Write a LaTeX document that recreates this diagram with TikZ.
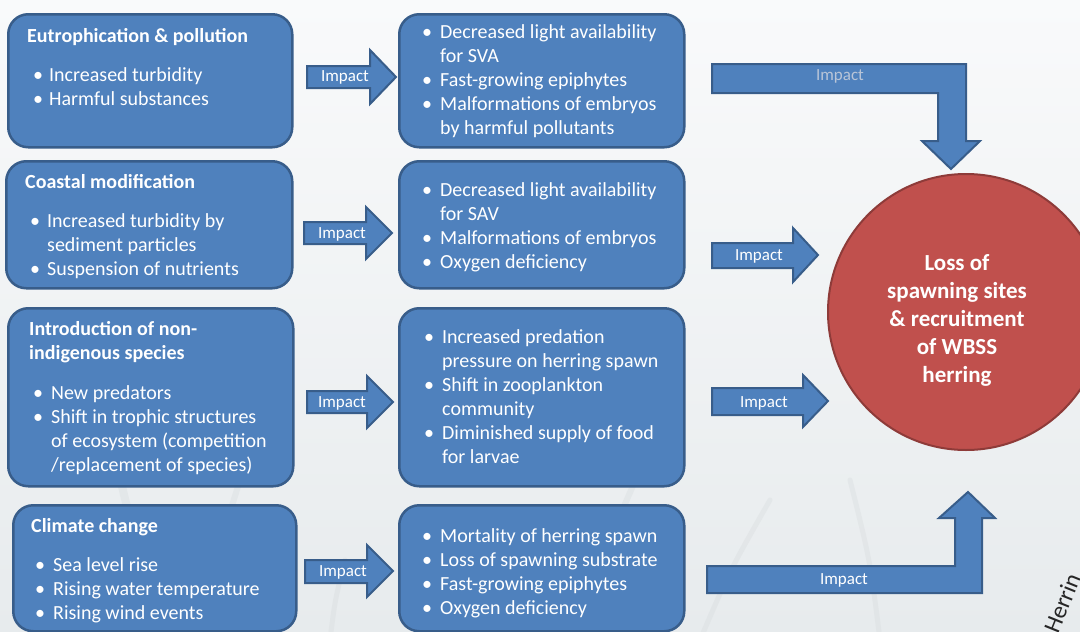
\documentclass[tikz,border=0pt]{standalone}
\usepackage{fontspec}
\setmainfont{Carlito}
\usetikzlibrary{calc, positioning}

\definecolor{boxblue}{HTML}{4F81BD}
\definecolor{boxline}{HTML}{385D8A}
\definecolor{lossred}{HTML}{C0504D}
\definecolor{lossline}{HTML}{8E3B39}
\definecolor{bgtop}{HTML}{F9FAFB}
\definecolor{bgbottom}{HTML}{E7EBED}
\definecolor{stem}{HTML}{D6DADC}
\definecolor{fadedtext}{HTML}{B9C5D8}

\newcommand{\blt}{\hspace{-2pt}\textbullet}

\tikzset{
  pressurebox/.style={draw=boxline, fill=boxblue, line width=2.5pt, rounded corners=20pt,
                      inner sep=0pt, anchor=north west},
  boxtext/.style={anchor=base west, inner sep=0pt, text=white, font=\fontsize{20}{24}\selectfont},
  impactarrow/.style={draw=boxline, fill=boxblue, line width=2pt, line join=miter},
  impactlabel/.style={text=white, inner sep=0pt, font=\fontsize{17}{20}\selectfont},
}

\begin{document}
\begin{tikzpicture}[x=1pt, y=-1pt]
  \useasboundingbox (0,0) rectangle (1080,632);
  \clip (0,0) rectangle (1080,632);

  % backdrop with a few faint grass stems
  \fill[top color=bgtop, bottom color=bgbottom] (0,0) rectangle (1080,632);
  \begin{scope}[stem, line cap=round, opacity=0.35]
    \draw[line width=8pt] (150,640) .. controls (140,560) .. (118,470);
    \draw[line width=6pt] (205,640) .. controls (215,560) .. (240,480);
    \draw[line width=6pt] (590,640) .. controls (600,560) .. (640,470);
    \draw[line width=5pt] (700,640) .. controls (730,570) .. (770,500);
    \draw[line width=5pt] (330,640) .. controls (335,600) .. (345,560);
    \draw[line width=5pt] (880,640) .. controls (870,560) .. (850,480);
  \end{scope}

  % pressures
  \node[pressurebox, minimum width=284pt, minimum height=133pt] (eutro) at (7,13) {};
  \node[pressurebox, minimum width=286pt, minimum height=127pt] (coast) at (5,160) {};
  \node[pressurebox, minimum width=285pt, minimum height=178pt] (invasive) at (7,307) {};
  \node[pressurebox, minimum width=283pt, minimum height=126pt] (climate) at (12,504) {};

  \node[boxtext] (eutrotext) at (27,42) {\begin{tabular}[t]{@{\hspace{8pt}}p{14pt}@{}l@{}}
    \multicolumn{2}{@{}l@{}}{\bfseries Eutrophication \& pollution}\\[15pt]
    \blt & Increased turbidity\\
    \blt & Harmful substances
  \end{tabular}};
  \node[boxtext] (coasttext) at (25,188) {\begin{tabular}[t]{@{\hspace{7pt}}p{15pt}@{}l@{}}
    \multicolumn{2}{@{}l@{}}{\bfseries Coastal modification}\\[15pt]
    \blt & Increased turbidity by\\
         & sediment particles\\
    \blt & Suspension of nutrients
  \end{tabular}};
  \node[boxtext] (invasivetext) at (29,335) {\begin{tabular}[t]{@{\hspace{6pt}}p{16pt}@{}l@{}}
    \multicolumn{2}{@{}l@{}}{\bfseries Introduction of non-}\\
    \multicolumn{2}{@{}l@{}}{\bfseries indigenous species}\\[16pt]
    \blt & New predators\\
    \blt & Shift in trophic structures\\
         & of ecosystem (competition\\
         & /replacement of species)
  \end{tabular}};
  \node[boxtext] (climatetext) at (31,532) {\begin{tabular}[t]{@{\hspace{6pt}}p{16pt}@{}l@{}}
    \multicolumn{2}{@{}l@{}}{\bfseries Climate change}\\[15pt]
    \blt & Sea level rise\\
    \blt & Rising water temperature\\
    \blt & Rising wind events
  \end{tabular}};

  % effects
  \node[pressurebox, minimum width=285pt, minimum height=133pt] (lighteffect) at (398,13) {};
  \node[pressurebox, minimum width=285pt, minimum height=127pt] (silteffect) at (398,160) {};
  \node[pressurebox, minimum width=285pt, minimum height=178pt] (predeffect) at (398,307) {};
  \node[pressurebox, minimum width=285pt, minimum height=126pt] (warmeffect) at (398,504) {};

  \node[boxtext] (lighttext) at (424,38) {\begin{tabular}[t]{@{}p{16pt}@{}l@{}}
    \blt & Decreased light availability\\
         & for SVA\\
    \blt & Fast-growing epiphytes\\
    \blt & Malformations of embryos\\
         & by harmful pollutants
  \end{tabular}};
  \node[boxtext] (silttext) at (424,196) {\begin{tabular}[t]{@{}p{16pt}@{}l@{}}
    \blt & Decreased light availability\\
         & for SAV\\
    \blt & Malformations of embryos\\
    \blt & Oxygen deficiency
  \end{tabular}};
  \node[boxtext] (predtext) at (426,343) {\begin{tabular}[t]{@{}p{16pt}@{}l@{}}
    \blt & Increased predation\\
         & pressure on herring spawn\\
    \blt & Shift in zooplankton\\
         & community\\
    \blt & Diminished supply of food\\
         & for larvae
  \end{tabular}};
  \node[boxtext] (warmtext) at (424,542) {\begin{tabular}[t]{@{}p{16pt}@{}l@{}}
    \blt & Mortality of herring spawn\\
    \blt & Loss of spawning substrate\\
    \blt & Fast-growing epiphytes\\
    \blt & Oxygen deficiency
  \end{tabular}};

  % impact arrows between the columns
  \draw[impactarrow] (307,66) -- (370,66) -- (370,50) -- (396,77) -- (370,104) -- (370,88) -- (307,88) -- cycle;
  \node[impactlabel] (impact1) at (345,77) {Impact};
  \draw[impactarrow] (304,222) -- (366,222) -- (366,207) -- (392,233) -- (366,259) -- (366,244) -- (304,244) -- cycle;
  \node[impactlabel] (impact2) at (342,234) {Impact};
  \draw[impactarrow] (307,391) -- (367,391) -- (367,376) -- (393,402) -- (367,428) -- (367,413) -- (307,413) -- cycle;
  \node[impactlabel] (impact3) at (342,403) {Impact};
  \draw[impactarrow] (305,560) -- (367,560) -- (367,545) -- (393,571) -- (367,597) -- (367,583) -- (305,583) -- cycle;
  \node[impactlabel] (impact4) at (343,572) {Impact};

  % the outcome
  \node[circle, draw=lossline, fill=lossred, line width=2pt, minimum size=276pt, inner sep=0pt] (loss) at (966,312) {};
  \node[text=white, align=center, inner sep=0pt, font=\bfseries\fontsize{23}{28}\selectfont] (losstext) at (957,320)
    {Loss of\\spawning sites\\\& recruitment\\of WBSS\\herring};

  % impact arrows into the outcome
  \draw[impactarrow] (712,64) -- (966,64) -- (966,141) -- (980,141) -- (951,169) -- (922,141) -- (938,141) -- (938,93) -- (712,93) -- cycle;
  \node[impactlabel, text=fadedtext] (impact5) at (840,76) {Impact};
  \draw[impactarrow] (712,243) -- (793,243) -- (793,228) -- (818,255) -- (793,282) -- (793,268) -- (712,268) -- cycle;
  \node[impactlabel] (impact6) at (759,256) {Impact};
  \draw[impactarrow] (712,388) -- (803,388) -- (803,375) -- (828,401) -- (803,427) -- (803,415) -- (712,415) -- cycle;
  \node[impactlabel] (impact7) at (764,403) {Impact};
  \draw[impactarrow] (707,593) -- (982,593) -- (982,518) -- (995,518) -- (968,492) -- (939,518) -- (955,518) -- (955,566) -- (707,566) -- cycle;
  \node[impactlabel] (impact8) at (844,580) {Impact};

  \node[anchor=base west, inner sep=0pt, rotate=68, text=black!85, font=\fontsize{24}{27}\selectfont] (credit) at (1058,635) {Herrin};
\end{tikzpicture}
\end{document}
